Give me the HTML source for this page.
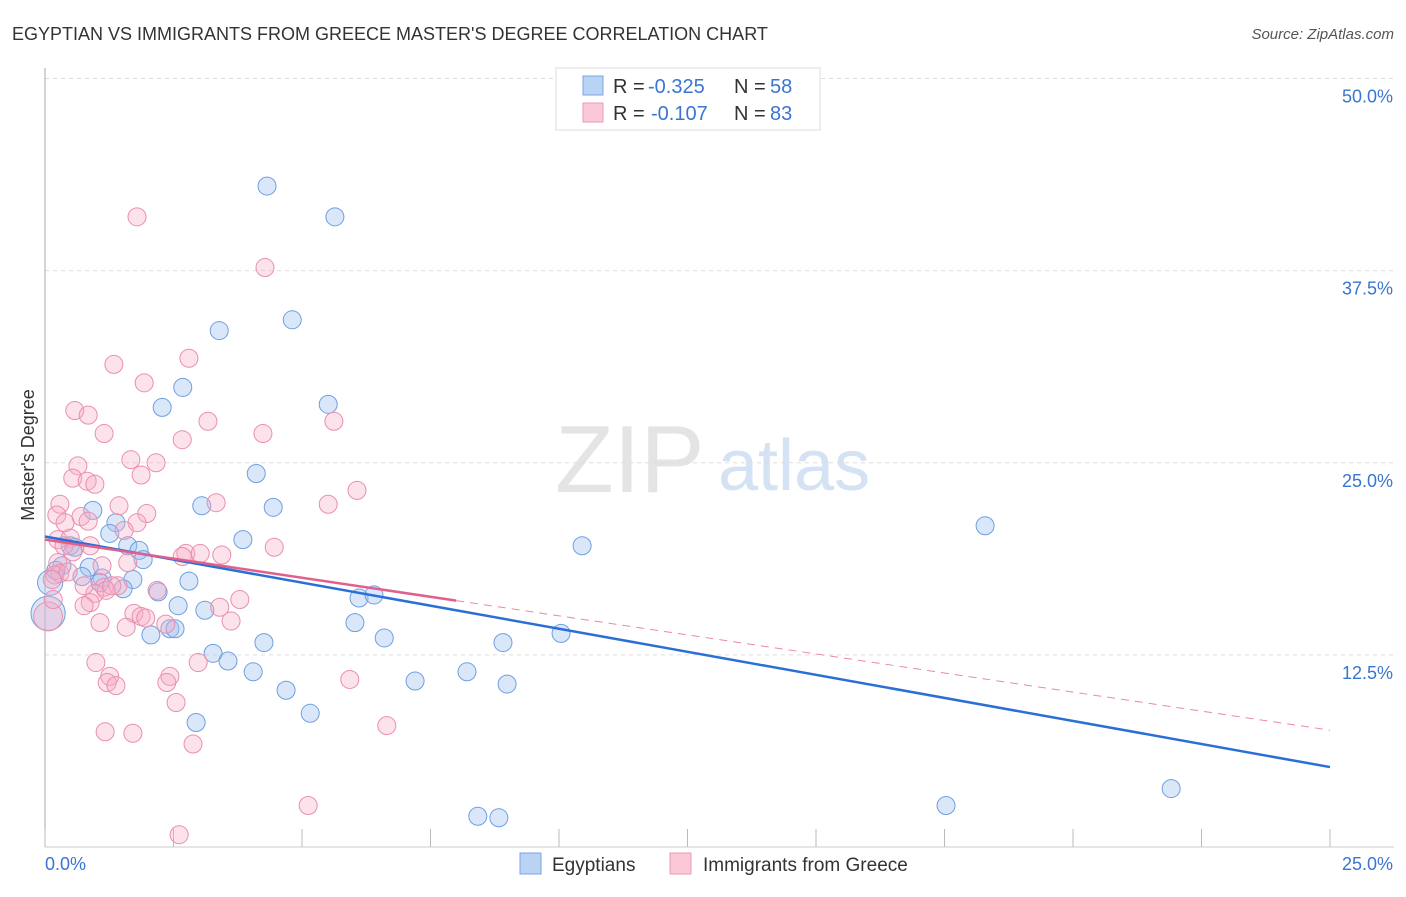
<!DOCTYPE html>
<html><head><meta charset="utf-8"><style>
body{margin:0;background:#fff;font-family:"Liberation Sans",sans-serif}
svg text{font-family:"Liberation Sans",sans-serif}
</style></head><body>
<svg width="1406" height="892" id="c">
<text x="12" y="40" font-size="18" fill="#333">EGYPTIAN VS IMMIGRANTS FROM GREECE MASTER'S DEGREE CORRELATION CHART</text>
<text x="1394" y="39" font-size="15" fill="#555" text-anchor="end" font-style="italic">Source: ZipAtlas.com</text>
<text x="34" y="455" font-size="18" fill="#333" text-anchor="middle" transform="rotate(-90 34 455)">Master's Degree</text>
<text x="555" y="492" font-size="96" fill="#e4e4e4" font-family="Liberation Serif">ZIP</text>
<text x="718" y="490" font-size="72" fill="#d4e2f4">atlas</text>
<g id="grid"></g><g id="pts"></g><g id="lines"></g>
<g>
<rect x="556" y="68" width="264" height="62" fill="#fff" stroke="#ddd"/>
<rect x="583" y="76" width="20" height="19" fill="#b9d3f5" stroke="#7aa6e0"/>
<text x="613" y="93" font-size="20" fill="#333">R =</text>
<text x="648" y="93" font-size="20" fill="#3a75d0">-0.325</text>
<text x="734" y="93" font-size="20" fill="#333">N =</text>
<text x="770" y="93" font-size="20" fill="#3a75d0">58</text>
<rect x="583" y="103" width="20" height="19" fill="#fac8d7" stroke="#eb9bb4"/>
<text x="613" y="120" font-size="20" fill="#333">R =</text>
<text x="651" y="120" font-size="20" fill="#3a75d0">-0.107</text>
<text x="734" y="120" font-size="20" fill="#333">N =</text>
<text x="770" y="120" font-size="20" fill="#3a75d0">83</text>
</g>
<g>
<rect x="520" y="853" width="21" height="21" fill="#b9d3f5" stroke="#7aa6e0"/>
<text x="552" y="871" font-size="19" fill="#333">Egyptians</text>
<rect x="670" y="853" width="21" height="21" fill="#fac8d7" stroke="#eb9bb4"/>
<text x="703" y="871" font-size="19" fill="#333">Immigrants from Greece</text>
</g>
</svg>
<script>
const yTicks=[12.5,25,37.5,50];
const yTickLabels=["12.5%","25.0%","37.5%","50.0%"];
const xTicks=[0,2.5,5,7.5,10,12.5,15,17.5,20,22.5,25];
const blueX=[4.32,5.64,3.39,4.81,2.68,2.28,5.51,4.11,3.05,4.44,0.93,1.38,1.26,3.85,0.49,1.61,1.83,1.91,0.33,0.86,1.11,0.72,1.71,2.80,1.52,2.20,2.59,3.11,6.11,6.40,6.03,2.43,2.53,2.06,4.26,6.60,8.91,10.04,3.27,3.56,4.05,4.69,7.20,8.21,8.99,5.16,2.94,18.29,10.45,17.53,21.91,8.42,8.83,0.1,0.06,0.21,1.07,0.58];
const blueY=[43.0,41.0,33.6,34.3,29.9,28.6,28.8,24.3,22.2,22.1,21.9,21.1,20.4,20.0,19.6,19.6,19.3,18.7,18.3,18.2,17.5,17.6,17.4,17.3,16.8,16.6,15.7,15.4,16.2,16.4,14.6,14.2,14.2,13.8,13.3,13.6,13.3,13.9,12.6,12.1,11.4,10.2,10.8,11.4,10.6,8.7,8.1,20.9,19.6,2.7,3.8,2.0,1.9,17.2,15.2,18.0,17.2,19.5];
const blueSize=blueX.map((v,i)=>i==53?1.4:(i==54?1.9:1));
const pinkX=[1.79,4.28,1.34,2.80,1.93,0.58,0.84,1.15,3.17,5.62,2.67,1.67,2.16,0.64,0.54,0.82,0.97,1.87,6.07,3.33,5.51,0.29,1.44,1.98,0.23,0.70,0.39,0.84,1.79,1.54,0.25,0.49,0.37,0.88,0.54,2.74,2.67,4.46,0.25,0.29,0.19,1.61,0.14,1.15,0.97,1.42,0.88,0.76,1.73,1.87,3.40,1.96,2.35,1.07,1.58,3.62,0.06,0.99,1.26,1.21,1.38,2.43,2.37,2.98,2.55,5.93,1.17,1.71,2.88,6.65,5.12,2.61,2.18,0.16,0.45,0.76,1.19,1.30,3.02,1.11,4.24,3.44,3.79];
const pinkY=[41.0,37.7,31.4,31.8,30.2,28.4,28.1,26.9,27.7,27.7,26.5,25.2,25.0,24.8,24.0,23.8,23.6,24.2,23.2,22.4,22.3,22.3,22.2,21.7,21.6,21.5,21.1,21.2,21.1,20.6,20.0,20.1,19.6,19.6,19.2,19.1,18.9,19.5,18.5,17.8,17.7,18.5,17.4,16.9,16.5,17.0,15.9,15.7,15.2,15.0,15.6,14.9,14.5,14.6,14.3,14.7,15.0,12.0,11.1,10.7,10.5,11.1,10.7,12.0,9.4,10.9,7.5,7.4,6.7,7.9,2.7,0.8,16.7,16.1,17.9,17.0,16.7,17.0,19.1,18.3,26.9,19.0,16.1];
const pinkSize=pinkX.map((v,i)=>i==56?1.6:1);
const blueTrend=[20.2,5.2];   // y at x=0 and x=25
const pinkTrend=[20.0,7.6];
const pinkSolidEnd=8.0;
const X=v=>45+v/25*1285, Y=v=>847-v/50*768.5;
const NS='http://www.w3.org/2000/svg';
function mk(t,a,p){const e=document.createElementNS(NS,t);for(const k in a)e.setAttribute(k,a[k]);p.appendChild(e);return e;}
const g=document.getElementById('grid');
yTicks.forEach((t,i)=>{
 const l=mk('line',{x1:45,x2:1394,y1:Y(t),y2:Y(t),stroke:'#ddd','stroke-dasharray':'4,4'},g);
 
 
 const tx=mk('text',{x:1393,y:Y(t)+24,'font-size':18,fill:'#3a75d0','text-anchor':'end'},g);
 tx.textContent=yTickLabels[i];
 
 
});
const ax=mk('line',{x1:45,x2:45,y1:68,y2:847,stroke:'#aaa'},g);


const bx=mk('line',{x1:45,x2:1394,y1:847,y2:847,stroke:'#ccc'},g);


xTicks.forEach(t=>{const l=mk('line',{x1:X(t),x2:X(t),y1:829,y2:847,stroke:'#bbb'},g);
 
 });
[[0,'0.0%','start',45],[25,'25.0%','end',1393]].forEach(a=>{const t=mk('text',{x:a[3],y:870,'font-size':18,fill:'#3a75d0','text-anchor':a[2]},g);t.textContent=a[1];
 
 });
const p=document.getElementById('pts');
blueX.forEach((v,i)=>{const c=mk('circle',{cx:X(v),cy:Y(blueY[i]),r:9*blueSize[i],fill:'rgba(160,196,240,0.4)',stroke:'#6f9fe0','stroke-width':1},p);
 
 });
pinkX.forEach((v,i)=>{const c=mk('circle',{cx:X(v),cy:Y(pinkY[i]),r:9*pinkSize[i],fill:'rgba(246,172,198,0.35)',stroke:'#ea8fae','stroke-width':1},p);
 
 });
const L=document.getElementById('lines');
const pAt=x=>pinkTrend[0]+(pinkTrend[1]-pinkTrend[0])*x/25;
let l1=mk('line',{x1:X(0),y1:Y(blueTrend[0]),x2:X(25),y2:Y(blueTrend[1]),stroke:'#2a6fd6','stroke-width':2.5},L);


let l2=mk('line',{x1:X(0),y1:Y(pAt(0)),x2:X(pinkSolidEnd),y2:Y(pAt(pinkSolidEnd)),stroke:'#e05f8c','stroke-width':2.5},L);


let l3=mk('line',{x1:X(pinkSolidEnd),y1:Y(pAt(pinkSolidEnd)),x2:X(25),y2:Y(pAt(25)),stroke:'#e88aa8','stroke-width':1,'stroke-dasharray':'8,6'},L);


</script>
</body></html>
